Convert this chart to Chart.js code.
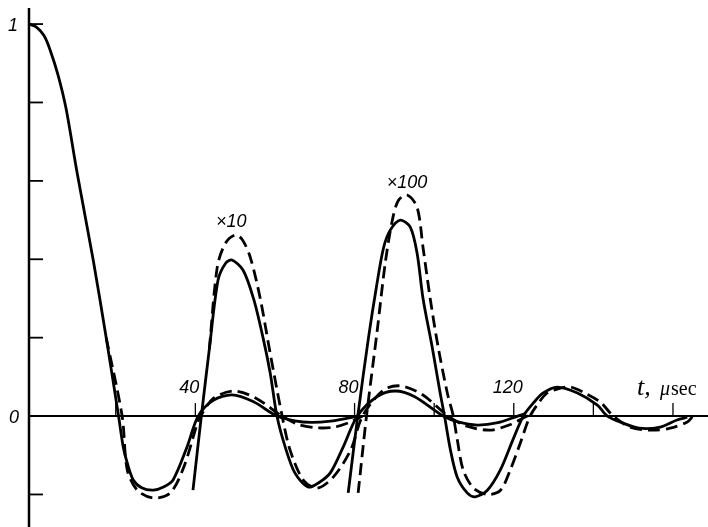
<!DOCTYPE html>
<html>
<head>
<meta charset="utf-8">
<script src="https://cdn.jsdelivr.net/npm/chart.js@4.4.0/dist/chart.umd.min.js"></script>
<style>
  html, body { margin: 0; padding: 0; background: #fff; }
  #wrap { width: 708px; height: 527px; }
</style>
</head>
<body>
<div id="wrap"><canvas id="fid" width="708" height="527"></canvas></div>
<script>
// times in microseconds, amplitudes relative to 1 at t = 0
const mainT = [-1.8, 0, 2, 3.5, 5.5, 7.5, 10.3, 14.3, 17.6, 20.7, 21.9, 22.9, 24.4, 26.5, 29.4, 32, 34.4, 37.9, 40.7, 44.5, 49.2, 54.5, 60.5, 65, 69, 74, 78, 80.7];
const mainV = [1.0, 0.993, 0.97, 0.934, 0.87, 0.785, 0.62, 0.40, 0.20, 0, -0.08, -0.12, -0.163, -0.183, -0.189, -0.181, -0.163, -0.079, 0, 0.04, 0.054, 0.037, 0, -0.012, -0.016, -0.013, -0.006, 0];
const mainDashT = [17.6, 21.6, 22.9, 25.4, 29.4, 33.7, 37.1, 40.5, 41.3, 44.5, 49.5, 55, 61.8, 66, 70.6, 75, 79, 82];
const mainDashV = [0.20, 0, -0.138, -0.189, -0.209, -0.196, -0.13, -0.018, 0, 0.045, 0.064, 0.047, 0, -0.022, -0.03, -0.028, -0.015, 0];

const x10T = [39.4, 41.5, 43.5, 45.7, 47.6, 49.2, 52, 54.6, 57, 58.8, 60.5, 62.6, 65, 68.3, 71, 73.9, 77.1, 80.7, 85.7, 90.2, 95, 102.3, 106, 110.8, 116, 121, 123];
const x10V = [-0.189, 0, 0.17, 0.347, 0.39, 0.398, 0.372, 0.30, 0.20, 0.11, 0, -0.08, -0.145, -0.181, -0.17, -0.145, -0.08, 0, 0.05, 0.064, 0.05, 0, -0.015, -0.023, -0.017, 0, 0.006];
const x10DashT = [43.5, 45.5, 47.5, 50, 51.8, 53.8, 56.3, 58.8, 61.8, 63.8, 67.1, 70.6, 74.7, 79, 82, 87.2, 91.5, 97, 103.5, 108, 114, 119, 123.4, 125];
const x10DashV = [0.17, 0.38, 0.44, 0.462, 0.45, 0.405, 0.30, 0.16, 0, -0.087, -0.163, -0.184, -0.155, -0.087, 0, 0.066, 0.077, 0.055, 0, -0.025, -0.036, -0.022, 0, 0.006];

const x100T = [78.4, 80.8, 83.5, 85.5, 87.3, 89, 91.5, 94, 95.7, 97.2, 99.5, 101.5, 102.6, 104.1, 105.8, 108.3, 110.3, 113.3, 116.6, 119.8, 122.4, 124.9, 127.4, 130.9, 136, 141, 143.5, 147.5, 151.5, 156.8, 161, 163.6];
const x100V = [-0.196, 0, 0.2, 0.33, 0.43, 0.475, 0.50, 0.482, 0.416, 0.30, 0.176, 0.059, 0, -0.087, -0.156, -0.196, -0.206, -0.19, -0.138, -0.06, 0, 0.033, 0.059, 0.074, 0.059, 0.028, 0, -0.018, -0.031, -0.028, -0.01, -0.003];
const x100DashT = [80.9, 83, 85.7, 87.7, 89.5, 91, 93.2, 95.7, 97.2, 99, 101, 103.3, 104.8, 105.8, 107.3, 109.9, 113.3, 116.6, 119.1, 121.6, 124.1, 126.2, 128.4, 131.7, 134.2, 137.4, 141.7, 145, 149.2, 154.3, 159.3, 163.6, 165];
const x100DashV = [-0.196, 0, 0.219, 0.39, 0.5, 0.55, 0.564, 0.533, 0.43, 0.30, 0.176, 0.059, 0, -0.06, -0.138, -0.184, -0.20, -0.19, -0.138, -0.07, 0, 0.033, 0.059, 0.071, 0.074, 0.061, 0.036, 0, -0.028, -0.036, -0.031, -0.015, 0];

const xTicks = [20, 40, 60, 80, 100, 120, 140, 160];
const xTickLabels = ['', '40', '', '80', '', '120', '', ''];
const yTicks = [-0.2, 0.2, 0.4, 0.6, 0.8, 1];
const yTickLabels = ['', '', '', '', '', '1'];
const notes = [{ text: '×10', t: 49, v: 0.50 }, { text: '×100', t: 93.2, v: 0.60 }];

const pts = (ts, vs) => ts.map((t, i) => ({ x: t, y: vs[i] }));

function line(ts, vs, dashed) {
  return {
    data: pts(ts, vs),
    borderColor: '#000',
    borderWidth: 2.8,
    borderDash: dashed ? [12, 6] : [],
    pointRadius: 0,
    tension: 0.3,
    fill: false,
  };
}

const axesPlugin = {
  id: 'axes',
  beforeDatasetsDraw(chart) {
    const { ctx, scales: { x, y }, chartArea } = chart;
    const ax = chartArea.left;
    const ay = y.getPixelForValue(0);
    ctx.save();
    ctx.strokeStyle = '#000';
    ctx.lineWidth = 2.5;
    ctx.beginPath();
    ctx.moveTo(ax, chartArea.top);
    ctx.lineTo(ax, chartArea.bottom);
    ctx.stroke();
    ctx.lineWidth = 2;
    ctx.beginPath();
    ctx.moveTo(ax, ay);
    ctx.lineTo(chartArea.right, ay);
    ctx.stroke();
    // y ticks
    ctx.lineWidth = 1.8;
    yTicks.forEach(v => {
      const py = y.getPixelForValue(v);
      ctx.beginPath();
      ctx.moveTo(ax, py);
      ctx.lineTo(ax + 14, py);
      ctx.stroke();
    });
    // x ticks
    ctx.lineWidth = 1.3;
    xTicks.forEach(t => {
      const px = x.getPixelForValue(t);
      ctx.beginPath();
      ctx.moveTo(px, ay);
      ctx.lineTo(px, ay - 13);
      ctx.stroke();
    });
    ctx.restore();
  },
  afterDraw(chart) {
    const { ctx, scales: { x, y }, chartArea } = chart;
    const ax = chartArea.left;
    const ay = y.getPixelForValue(0);
    ctx.save();
    ctx.fillStyle = '#000';
    ctx.font = 'italic 18px "Liberation Sans Narrow", "Liberation Sans", sans-serif';
    ctx.textBaseline = 'alphabetic';
    ctx.textAlign = 'center';
    xTicks.forEach((t, i) => {
      if (xTickLabels[i]) ctx.fillText(xTickLabels[i], x.getPixelForValue(t) - 6, ay - 23);
    });
    ctx.textAlign = 'right';
    yTicks.forEach((v, i) => {
      if (yTickLabels[i]) ctx.fillText(yTickLabels[i], ax - 11, y.getPixelForValue(v) + 7);
    });
    ctx.fillText('0', ax - 10, ay + 7);
    ctx.textAlign = 'center';
    notes.forEach(n => ctx.fillText(n.text, x.getPixelForValue(n.t), y.getPixelForValue(n.v) + 7));
    // axis name
    ctx.textAlign = 'left';
    ctx.font = 'italic 26px "Liberation Serif", serif';
    ctx.fillText('t,', 637, ay - 21);
    ctx.font = 'italic 20px "Liberation Serif", serif';
    ctx.fillText('μ', 660, ay - 21);
    ctx.font = '20px "Liberation Serif", serif';
    ctx.fillText('sec', 671, ay - 21);
    ctx.restore();
  },
};

new Chart(document.getElementById('fid'), {
  type: 'line',
  data: {
    datasets: [
      line(mainT, mainV, false),
      line(mainDashT, mainDashV, true),
      line(x10T, x10V, false),
      line(x10DashT, x10DashV, true),
      line(x100T, x100V, false),
      line(x100DashT, x100DashV, true),
    ],
  },
  options: {
    responsive: false,
    animation: false,
    devicePixelRatio: 1,
    layout: { padding: { left: 29, top: 8, right: 0, bottom: 0 } },
    plugins: { legend: { display: false }, tooltip: { enabled: false } },
    scales: {
      x: { type: 'linear', min: -1.8, max: 168.8, display: false },
      y: { type: 'linear', min: -0.283, max: 1.041, display: false },
    },
  },
  plugins: [axesPlugin],
});
</script>
</body>
</html>
